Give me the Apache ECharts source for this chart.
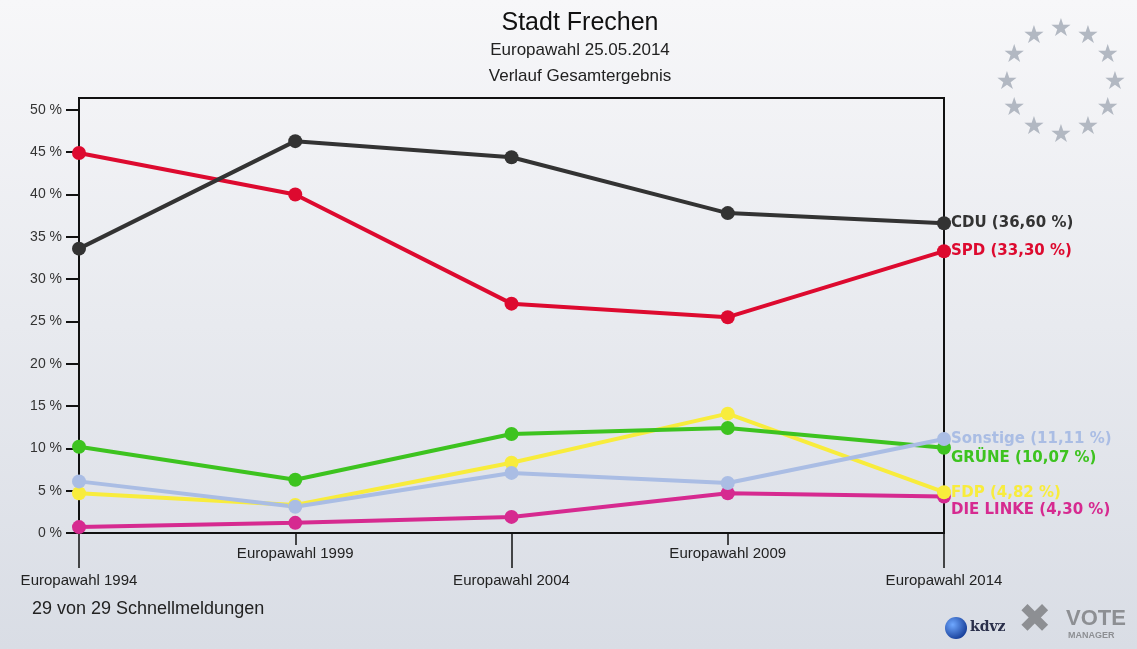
<!DOCTYPE html>
<html>
<head>
<meta charset="utf-8">
<script src="https://cdn.jsdelivr.net/npm/echarts@6/dist/echarts.min.js"></script>
<style>
  html, body { margin: 0; padding: 0; }
  #chart { width: 1137px; height: 649px; }
</style>
</head>
<body>
<div id="chart"></div>
<script>
// Wahlen (Kategorien)
const wahlen = ['Europawahl 1994', 'Europawahl 1999', 'Europawahl 2004', 'Europawahl 2009', 'Europawahl 2014']
// Ergebnisse in %
const cdu = [33.6, 46.3, 44.4, 37.8, 36.60]
const spd = [44.9, 40.0, 27.1, 25.5, 33.30]
const gruene = [10.2, 6.3, 11.7, 12.4, 10.07]
const fdp = [4.7, 3.3, 8.3, 14.1, 4.82]
const sonstige = [6.1, 3.1, 7.1, 5.9, 11.11]
const linke = [0.7, 1.2, 1.9, 4.7, 4.30]
const yTicks = [0, 5, 10, 15, 20, 25, 30, 35, 40, 45, 50]

const myChart = echarts.init(document.getElementById('chart'))

const fmt = v => v.toFixed(2).replace('.', ',')

function makeSeries(name, data, color, labelOffset) {
  return {
    name: name,
    type: 'line',
    xAxisIndex: 0,
    data: data,
    symbol: 'circle',
    symbolSize: 14,
    lineStyle: { color: color, width: 4 },
    itemStyle: { color: color },
    emphasis: { disabled: true },
    endLabel: {
      show: true,
      distance: 7,
      offset: [0, labelOffset],
      color: color,
      fontFamily: 'DejaVu Sans',
      fontSize: 15,
      fontWeight: 'bold',
      formatter: p => name + ' (' + fmt(p.value) + ' %)'
    }
  }
}

// EU-Sterne als Dekoration
const stars = []
for (let i = 0; i < 12; i++) {
  const a = i * Math.PI / 6
  stars.push({
    type: 'text',
    x: 1061 + 54 * Math.sin(a),
    y: 82 - 53 * Math.cos(a),
    style: {
      text: '★', fill: '#b2b8c2', fontSize: 25,
      fontFamily: 'DejaVu Sans', align: 'center', verticalAlign: 'middle'
    }
  })
}

const option = {
  backgroundColor: {
    type: 'linear', x: 0, y: 0, x2: 0, y2: 1,
    colorStops: [
      { offset: 0, color: '#f7f7f9' },
      { offset: 1, color: '#d9dde5' }
    ]
  },
  animation: false,
  title: [
    {
      text: 'Stadt Frechen',
      left: 575, top: 6, textAlign: 'center',
      textStyle: { fontFamily: 'Liberation Sans', fontSize: 25, fontWeight: 'normal', color: '#111' }
    },
    {
      text: 'Europawahl 25.05.2014\nVerlauf Gesamtergebnis',
      left: 575, top: 32, textAlign: 'center',
      textStyle: { fontFamily: 'Liberation Sans', fontSize: 17, fontWeight: 'normal', color: '#222', lineHeight: 26 }
    }
  ],
  grid: {
    left: 79, right: 193, top: 98, bottom: 116,
    show: true, borderColor: '#111', borderWidth: 2
  },
  xAxis: [
    {
      type: 'category', position: 'bottom', data: wahlen, boundaryGap: false,
      axisLine: { lineStyle: { color: '#111', width: 2 } },
      axisTick: { alignWithLabel: true, length: 35, lineStyle: { color: '#111', width: 1.5 }, interval: i => i % 2 === 0 },
      axisLabel: { interval: i => i % 2 === 0, margin: 40, color: '#222', fontFamily: 'Liberation Sans', fontSize: 15 }
    },
    {
      type: 'category', position: 'bottom', data: wahlen, boundaryGap: false,
      axisLine: { show: false },
      axisTick: { length: 12, lineStyle: { color: '#111', width: 1.5 }, interval: i => i % 2 === 1 },
      axisLabel: { interval: i => i % 2 === 1, margin: 13, color: '#222', fontFamily: 'Liberation Sans', fontSize: 15 }
    }
  ],
  yAxis: {
    type: 'value', min: 0, max: 51.4,
    splitLine: { show: false },
    axisLine: { show: true, lineStyle: { color: '#111', width: 2 } },
    axisTick: { show: true, length: 13, customValues: yTicks, lineStyle: { color: '#111', width: 2 } },
    axisLabel: {
      customValues: yTicks, margin: 17, color: '#333',
      fontFamily: 'Liberation Sans', fontSize: 14,
      formatter: '{value} %'
    }
  },
  series: [
    makeSeries('DIE LINKE', linke, '#d62a90', 14),
    makeSeries('FDP', fdp, '#f8ec3c', 1),
    makeSeries('GRÜNE', gruene, '#3dc31f', 10),
    makeSeries('Sonstige', sonstige, '#aabde4', 0),
    makeSeries('SPD', spd, '#dd0a2f', 0),
    makeSeries('CDU', cdu, '#333333', 0)
  ],
  graphic: stars.concat([
    {
      type: 'text', left: 32, top: 600,
      style: { text: '29 von 29 Schnellmeldungen', fill: '#222', fontSize: 18, fontFamily: 'Liberation Sans' }
    },
    {
      type: 'circle', shape: { cx: 956, cy: 628, r: 11 },
      style: { fill: { type: 'radial', x: 0.35, y: 0.35, r: 0.8, colorStops: [{ offset: 0, color: '#6fa8ff' }, { offset: 1, color: '#0a2f8a' }] } }
    },
    {
      type: 'text', left: 970, top: 620,
      style: { text: 'kdvz', fill: '#2a2f4a', fontSize: 14, fontWeight: 'bold', fontFamily: 'DejaVu Serif' }
    },
    {
      type: 'text', left: 1018, top: 602,
      style: { text: '✖', fill: '#8d8f93', fontSize: 40, fontFamily: 'DejaVu Sans' }
    },
    {
      type: 'text', left: 1066, top: 608,
      style: { text: 'VOTE', fill: '#8d8f93', fontSize: 22, fontWeight: 'bold', fontFamily: 'Liberation Sans' }
    },
    {
      type: 'text', left: 1068, top: 631,
      style: { text: 'MANAGER', fill: '#8d8f93', fontSize: 9, fontWeight: 'bold', fontFamily: 'Liberation Sans' }
    }
  ])
}

option && myChart.setOption(option)
</script>
</body>
</html>
